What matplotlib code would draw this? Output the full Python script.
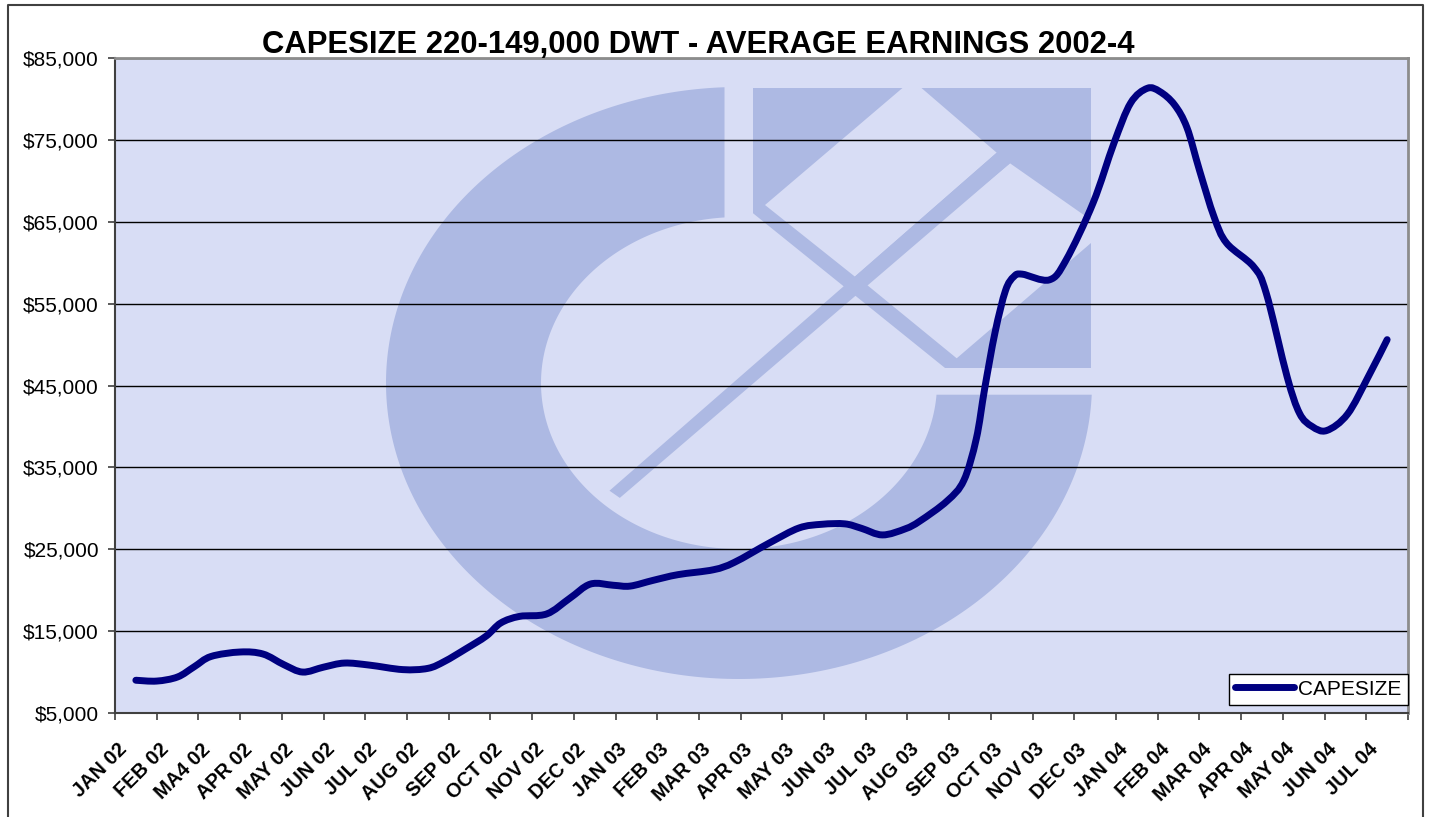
import numpy as np
import matplotlib.pyplot as plt
from matplotlib.patches import Polygon, PathPatch
from matplotlib.path import Path
from matplotlib.lines import Line2D
from matplotlib.transforms import ScaledTranslation

plt.rcParams['font.family'] = ['Liberation Sans', 'DejaVu Sans']

months = ['JAN 02', 'FEB 02', 'MA4 02', 'APR 02', 'MAY 02', 'JUN 02', 'JUL 02', 'AUG 02',
          'SEP 02', 'OCT 02', 'NOV 02', 'DEC 02', 'JAN 03', 'FEB 03', 'MAR 03', 'APR 03',
          'MAY 03', 'JUN 03', 'JUL 03', 'AUG 03', 'SEP 03', 'OCT 03', 'NOV 03', 'DEC 03',
          'JAN 04', 'FEB 04', 'MAR 04', 'APR 04', 'MAY 04', 'JUN 04', 'JUL 04']

# position on the month axis (0 = JAN 02) and earnings
month_pos = [0.00, 0.50, 1.00, 1.40, 1.80, 2.50, 3.05, 3.55, 4.00, 4.50, 5.00, 5.60,
             6.40, 7.00, 7.40, 7.90, 8.40, 8.75, 9.20, 9.85, 10.40, 10.90, 11.45, 11.85,
             12.40, 13.00, 13.85, 14.35, 15.20, 15.90, 16.45, 17.00, 17.40, 17.90, 18.45,
             18.80, 19.45, 19.85, 20.15, 20.35, 20.60, 20.85, 21.05, 21.25, 21.90, 22.30,
             22.95, 23.45, 23.85, 24.25, 24.55, 24.90, 25.20, 25.50, 25.85, 26.15, 26.80,
             27.10, 27.60, 27.90, 28.20, 28.55, 29.05, 29.55, 30.00]
earnings = [9000, 8900, 9400, 10650, 11900, 12450, 12200, 10900, 10000, 10600, 11100, 10850,
            10300, 10450, 11300, 12800, 14400, 16000, 16800, 17100, 19000, 20750, 20600, 20500,
            21200, 21900, 22500, 23400, 25800, 27600, 28050, 28100, 27550, 26750, 27500,
            28450, 30900, 33400, 38500, 44600, 51500, 56600, 58300, 58600, 57900, 60300,
            67300, 74600, 79500, 81300, 80900, 79300, 76500, 71300, 65600, 62400, 59500,
            56300, 46100, 41600, 40000, 39500, 41500, 46100, 50600]

yticks = np.arange(5000, 85001, 10000)

W, H = 1434, 817
navy = '#000080'
bg = '#D8DDF5'
logo = '#ADB9E3'

fig = plt.figure(figsize=(W / 100, H / 100), dpi=100)
ax = fig.add_axes([115 / W, 1 - 713 / H, 1293 / W, 655 / H])
ax.set_facecolor(bg)


def ref(x, y):
    # picture pixel -> axes fraction, used only for the watermark
    return ((x - 115) / 1293, (713 - y) / 655)


def shape(pts, color):
    ax.add_patch(Polygon([ref(*p) for p in pts], closed=True, transform=ax.transAxes,
                         facecolor=color, edgecolor='none', zorder=0.2))


# watermark logo: big "C" ring
cx, cy = 739, 383
rxo, ryo, rxi, ryi = 353, 296, 198, 166
cut_x, cut_y = 724.5, 394.7
to = np.linspace(np.arccos((cut_x - cx) / rxo), 2 * np.pi - np.arcsin((cut_y - cy) / ryo), 300)
ti = np.linspace(2 * np.pi - np.arcsin((cut_y - cy) / ryi), np.arccos((cut_x - cx) / rxi), 300)
ring = [(cx + rxo * np.cos(t), cy - ryo * np.sin(t)) for t in to] + \
       [(cx + rxi * np.cos(t), cy - ryi * np.sin(t)) for t in ti]
shape(ring, logo)
# square with the arrow cut out of it
shape([(753.3, 88.3), (1090.7, 88.3), (1090.7, 368.3), (753.3, 368.3)], logo)
shape([(765, 205), (906, 85), (918, 85), (996.7, 152.7), (855, 276.7)], bg)
shape([(1010, 163.3), (1096, 223.5), (1096, 238.7), (956.7, 358.3), (865, 283.3)], bg)
shape([(749, 209.8), (749, 372), (949.6, 372)], bg)
shape([(996.7, 152.7), (1010, 163.3), (619.8, 497.9), (609.5, 490.7)], logo)

# smoothed line through the read points (Catmull-Rom as cubic Bezier)
pts = np.column_stack([month_pos, earnings]).astype(float)
ext = np.vstack([pts[0], pts, pts[-1]])
verts, codes = [pts[0]], [Path.MOVETO]
for i in range(len(pts) - 1):
    p0, p1, p2, p3 = ext[i], ext[i + 1], ext[i + 2], ext[i + 3]
    verts += [p1 + (p2 - p0) / 6, p2 - (p3 - p1) / 6, p2]
    codes += [Path.CURVE4] * 3
ax.add_patch(PathPatch(Path(verts, codes), facecolor='none', edgecolor=navy, lw=5,
                       capstyle='round', joinstyle='round', zorder=3))

ax.set_xlim(-0.5, len(months) - 0.5)
ax.set_ylim(5000, 85000)
ax.set_axisbelow(True)
ax.yaxis.grid(True, color='black', lw=1)

ax.set_yticks(yticks, labels=[f'${v:,.0f}' for v in yticks])
ax.tick_params(axis='y', direction='out', length=5, width=1.2, color='#404040',
               labelsize=15, pad=6.5)

ax.set_xticks(np.arange(len(months) + 1) - 0.5)
ax.tick_params(axis='x', which='major', direction='out', length=5, width=1.2,
               color='#404040', labelbottom=False)
ax.set_xticks(np.arange(len(months)), labels=months, minor=True)
ax.tick_params(axis='x', which='minor', length=0, pad=24, labelsize=14.3)
shift = ScaledTranslation(-12 / 100, 0, fig.dpi_scale_trans)
for lab in ax.get_xticklabels(minor=True):
    lab.set_rotation(45)
    lab.set_ha('right')
    lab.set_va('center')
    lab.set_rotation_mode('anchor')
    lab.set_fontweight('bold')
    lab.set_transform(lab.get_transform() + shift)

for side in ('left', 'bottom'):
    ax.spines[side].set_color('#404040')
    ax.spines[side].set_linewidth(1.5)
for side in ('top', 'right'):
    ax.spines[side].set_color('#8C8C8C')
    ax.spines[side].set_linewidth(2)

handle = Line2D([], [], color=navy, lw=5, solid_capstyle='round')
leg = ax.legend([handle], ['CAPESIZE'], loc='lower right', bbox_to_anchor=(1.0, 8 / 655),
                borderaxespad=0, fontsize=15, handlelength=2.85, handletextpad=0.2,
                borderpad=0.3, fancybox=False, framealpha=1, edgecolor='black')
leg.get_frame().set_linewidth(1)

fig.text(698 / W, 1 - 53 / H, 'CAPESIZE 220-149,000 DWT - AVERAGE EARNINGS 2002-4',
         ha='center', va='baseline', fontsize=22.3, fontweight='bold')

# outer chart border (open at the bottom)
fig.add_artist(Line2D([8 / W, 8 / W, 1423 / W, 1423 / W], [0, 1 - 5 / H, 1 - 5 / H, 0],
                      transform=fig.transFigure, color='#404040', lw=1.5))

fig.savefig('out.png', dpi=100)
